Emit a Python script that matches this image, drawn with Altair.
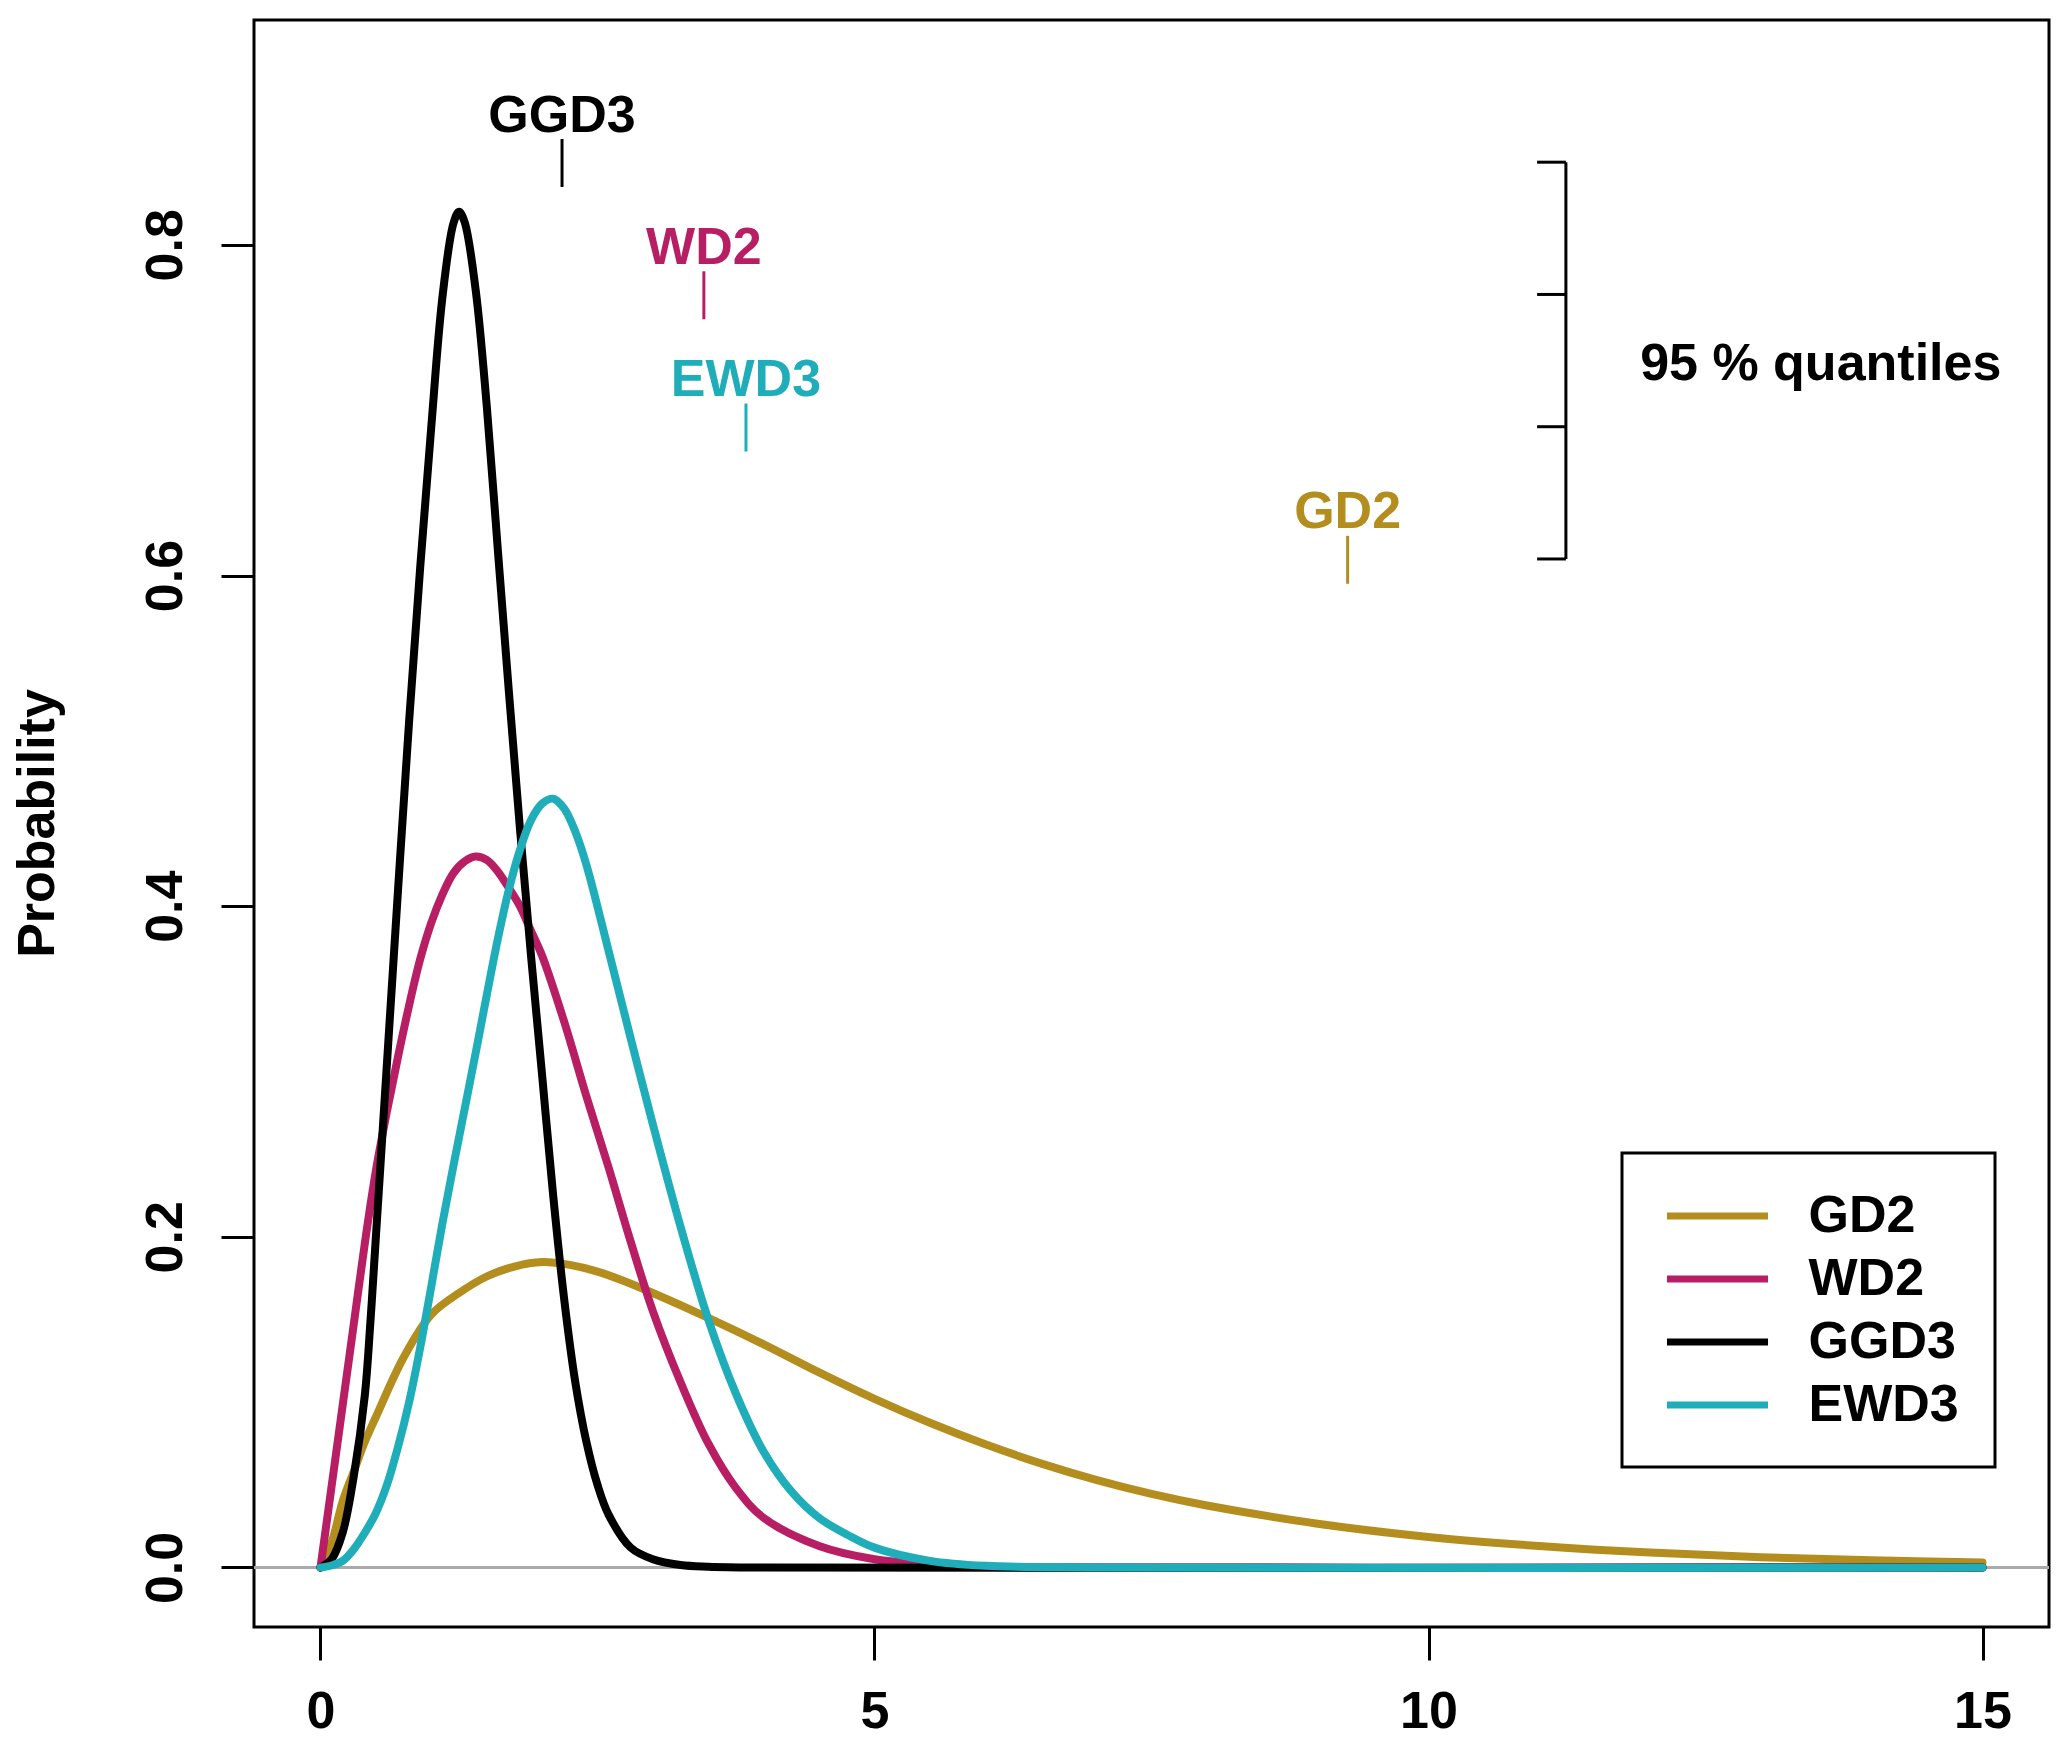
import altair as alt
import pandas as pd

# densities
SERIES = ["GD2", "WD2", "GGD3", "EWD3"]
COLORS = ["#B38E1F", "#B81E64", "#000000", "#1FAEB9"]

GD2_X = [0, 0.1, 0.2, 0.3, 0.4, 0.5, 0.75, 1.0, 1.25, 1.5, 1.75, 2.0, 2.25, 2.5,
         2.75, 3.0, 3.5, 4.0, 4.5, 5.0, 5.5, 6.0, 6.5, 7.0, 7.5, 8.0, 9.0, 10,
         11, 12, 13, 14, 15]
GD2_Y = [0, 0.015, 0.04, 0.058, 0.076, 0.091, 0.127, 0.153, 0.166, 0.176, 0.182,
         0.1847, 0.183, 0.179, 0.173, 0.166, 0.151, 0.135, 0.118, 0.102, 0.0875,
         0.0745, 0.063, 0.053, 0.0445, 0.0375, 0.0265, 0.0185, 0.013, 0.009,
         0.0062, 0.0043, 0.003]

WD2_X = [0, 0.1, 0.2, 0.3, 0.4, 0.5, 0.6, 0.7, 0.8, 0.9, 1.0, 1.1, 1.2, 1.3, 1.4,
         1.5, 1.6, 1.7, 1.8, 1.9, 2.0, 2.2, 2.4, 2.6, 2.8, 3.0, 3.25, 3.5, 3.75,
         4.0, 4.5, 5.0, 5.5, 6.0, 7.0, 15]
WD2_Y = [0, 0.049, 0.098, 0.147, 0.196, 0.24, 0.276, 0.309, 0.34, 0.368, 0.39,
         0.407, 0.42, 0.427, 0.43, 0.428, 0.421, 0.411, 0.40, 0.385, 0.37, 0.33,
         0.285, 0.242, 0.197, 0.155, 0.112, 0.075, 0.048, 0.03, 0.013, 0.005,
         0.002, 0.0005, 0, 0]

GGD3_X = [0, 0.1, 0.2, 0.3, 0.4, 0.45, 0.5, 0.6, 0.7, 0.8, 0.9, 1.0, 1.1, 1.2,
          1.25, 1.3, 1.4, 1.5, 1.6, 1.7, 1.8, 1.9, 2.0, 2.1, 2.2, 2.3, 2.4, 2.5,
          2.6, 2.8, 3.0, 3.25, 3.5, 4.0, 15]
GGD3_Y = [0, 0.005, 0.021, 0.055, 0.104, 0.148, 0.2, 0.305, 0.41, 0.512,
          0.605, 0.69, 0.768, 0.813, 0.82, 0.814, 0.773, 0.703, 0.616, 0.53,
          0.447, 0.37, 0.298, 0.225, 0.162, 0.112, 0.076, 0.05, 0.032, 0.012,
          0.005, 0.0015, 0.0005, 0, 0]

EWD3_X = [0, 0.1, 0.2, 0.3, 0.4, 0.5, 0.6, 0.7, 0.8, 0.9, 1.0, 1.1, 1.2, 1.3, 1.4,
          1.5, 1.6, 1.7, 1.8, 1.9, 2.0, 2.1, 2.2, 2.3, 2.4, 2.6, 2.8, 3.0, 3.25,
          3.5, 3.75, 4.0, 4.25, 4.5, 4.75, 5.0, 5.5, 6.0, 7.0, 15]
EWD3_Y = [0, 0.0012, 0.004, 0.011, 0.021, 0.033, 0.05, 0.073, 0.10, 0.133, 0.17,
          0.208, 0.243, 0.277, 0.311, 0.346, 0.38, 0.41, 0.434, 0.452, 0.462,
          0.465, 0.459, 0.445, 0.425, 0.373, 0.32, 0.268, 0.206, 0.15, 0.105,
          0.07, 0.046, 0.03, 0.02, 0.012, 0.004, 0.001, 0, 0]

# 95 % quantile markers and their label rows
QUANTILE_X = [9.27, 3.46, 2.18, 3.84]
LABEL_LEVEL = [0.64, 0.80, 0.88, 0.72]
BRACKET_X = 11.24
BRACKET_TICK = 0.26
BRACKET_LEVELS = [0.85, 0.77, 0.69, 0.61]
NOTE_TEXT = ["95 % quantiles"]
NOTE_X = [13.54]
NOTE_Y = [0.73]

X_TICKS = [0, 5, 10, 15]
Y_TICKS = [0.0, 0.2, 0.4, 0.6, 0.8]

FONT = "Liberation Sans"
FS = 52

rows = []
for name, xs, ys in zip(SERIES, [GD2_X, WD2_X, GGD3_X, EWD3_X],
                        [GD2_Y, WD2_Y, GGD3_Y, EWD3_Y]):
    for x, y in zip(xs, ys):
        rows.append({"series": name, "x": x, "y": y})
curves = pd.DataFrame(rows)

marks = pd.DataFrame({"series": SERIES, "q": QUANTILE_X, "level": LABEL_LEVEL})
bracket = pd.DataFrame({"level": BRACKET_LEVELS, "bx": [BRACKET_X] * 4})
note = pd.DataFrame({"text": NOTE_TEXT, "x": NOTE_X, "y": NOTE_Y})
zero = pd.DataFrame({"y": [0.0]})

x_scale = alt.Scale(domain=[-0.6, 15.6], nice=False, zero=False)
y_scale = alt.Scale(domain=[-0.036, 0.936], nice=False, zero=False)
color_scale = alt.Scale(domain=SERIES, range=COLORS)

# same axis objects in every layer so the layered axes merge cleanly
x_axis = alt.Axis(
    values=X_TICKS, format="d", title=None, labelPadding=67,
    labelBaseline="alphabetic", labelFlush=False,
)
y_axis = alt.Axis(
    values=Y_TICKS, format=".1f", title="Probability", labelAngle=270,
    labelAlign="center", labelBaseline="alphabetic", labelPadding=40,
    titleAngle=270, titleX=-201, titleY=803, titleAlign="center",
    titleBaseline="alphabetic",
)


def xq(field):
    return alt.X(field, scale=x_scale, axis=x_axis)


def yq(field):
    return alt.Y(field, scale=y_scale, axis=y_axis)


zero_line = alt.Chart(zero).mark_rule(color="#AAAAAA", strokeWidth=3).encode(
    y=yq("y:Q")
)

lines = alt.Chart(curves).mark_line(
    strokeWidth=8, strokeCap="round", strokeJoin="round", interpolate="catmull-rom"
).encode(
    x=xq("x:Q"),
    y=yq("y:Q"),
    color=alt.Color(
        "series:N", scale=color_scale, sort=SERIES,
        legend=alt.Legend(
            title=None, orient="none", legendX=1368, legendY=1133,
            symbolType="M-2.15,0H2.15", symbolSize=2209, symbolStrokeWidth=7,
            symbolOffset=32.5, labelOffset=64, rowPadding=10, padding=36,
            labelFontSize=FS, labelFontWeight="bold", labelFont=FONT,
            labelColor="black", strokeColor="black",
        ),
    ),
    detail="series:N",
)

quant_ticks = alt.Chart(marks).transform_calculate(
    top="datum.level - 0.016", bottom="datum.level - 0.045"
).mark_rule(strokeWidth=3).encode(
    x=xq("q:Q"),
    y=yq("top:Q"),
    y2="bottom:Q",
    color=alt.Color("series:N", scale=color_scale, legend=None),
)

quant_labels = alt.Chart(marks).mark_text(
    font=FONT, fontSize=FS, fontWeight="bold", align="center",
    baseline="alphabetic", dy=19,
).encode(
    x=xq("q:Q"),
    y=yq("level:Q"),
    text="series:N",
    color=alt.Color("series:N", scale=color_scale, legend=None),
)

bracket_ticks = alt.Chart(bracket).transform_calculate(
    left=f"datum.bx - {BRACKET_TICK}"
).mark_rule(color="black", strokeWidth=3).encode(
    x=xq("left:Q"),
    x2="bx:Q",
    y=yq("level:Q"),
)

bracket_spine = alt.Chart(bracket).mark_rule(color="black", strokeWidth=3).encode(
    x=xq("bx:Q"),
    y=yq("min(level):Q"),
    y2="max(level):Q",
)

note_text = alt.Chart(note).mark_text(
    font=FONT, fontSize=FS, fontWeight="bold", align="center",
    baseline="alphabetic", dy=19, color="black",
).encode(
    x=xq("x:Q"),
    y=yq("y:Q"),
    text="text:N",
)

chart = alt.layer(
    zero_line, lines, quant_ticks, quant_labels, bracket_ticks, bracket_spine, note_text
).properties(
    width=1795,
    height=1607,
    padding={"left": 246, "top": 12, "right": 6, "bottom": 115},
    autosize=alt.AutoSizeParams(type="none"),
).configure(
    font=FONT,
).configure_view(
    stroke="black", strokeWidth=3,
).configure_axis(
    domain=False, grid=False, ticks=True, tickSize=33, tickWidth=3,
    tickColor="black", labelFontSize=FS, labelFontWeight="bold",
    labelColor="black", labelFont=FONT, titleFontSize=FS,
    titleFontWeight="bold", titleColor="black", titleFont=FONT,
).configure_legend(
    strokeWidth=3,
)

chart.save("out.html", embed_options={"renderer": "svg", "actions": False})
